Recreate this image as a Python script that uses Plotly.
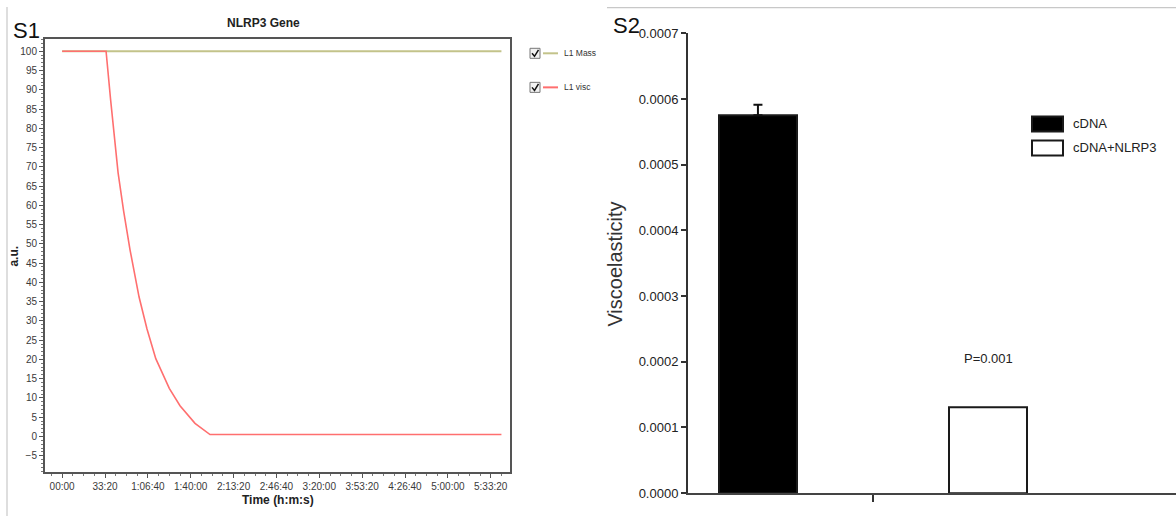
import plotly.graph_objects as go

# Canvas size; layout positions below are written in page pixels (x, y),
# converted to paper fractions by px()/py().
W, H = 1176, 524
YS, YOFF = 532 / 516, 8

# ---- S1: NLRP3 Gene time course (time in seconds, a.u.) ----
mass_time = [0, 20500]
mass_val = [100, 100]
visc_time = [0, 2050, 2260, 2400, 2610, 2870, 3170, 3590, 3960, 4370, 5000, 5500, 6200, 6900, 20500]
visc_val = [100, 100, 87.5, 79.5, 68.5, 58.5, 48.4, 36.2, 27.9, 20.2, 12.5, 8.0, 3.4, 0.5, 0.5]
time_ticks = [0, 2000, 4000, 6000, 8000, 10000, 12000, 14000, 16000, 18000, 20000]
time_labels = ["00:00", "33:20", "1:06:40", "1:40:00", "2:13:20", "2:46:40",
               "3:20:00", "3:53:20", "4:26:40", "5:00:00", "5:33:20"]
au_ticks = list(range(-5, 101, 5))
s1_series = ["L1 Mass", "L1 visc"]
s1_colors = ["#c3c38a", "#ff6f6f"]

# ---- S2: Viscoelasticity bar chart ----
groups = ["cDNA", "cDNA+NLRP3"]
visco = [0.000575, 0.000131]
visco_err = [0.000016, 0.0]
bar_fill = ["#000000", "#ffffff"]
p_label = "P=0.001"

FONT = "Liberation Sans, Arial, sans-serif"


def px(x):
    return x / W


def py(y):
    return 1 - (y * YS - YOFF) / H


fig = go.Figure()

# S1 lines
fig.add_trace(go.Scatter(x=mass_time, y=mass_val, mode="lines", name=s1_series[0],
                         line=dict(color=s1_colors[0], width=2.2),
                         xaxis="x", yaxis="y", showlegend=False))
fig.add_trace(go.Scatter(x=visc_time, y=visc_val, mode="lines", name=s1_series[1],
                         line=dict(color=s1_colors[1], width=1.6),
                         xaxis="x", yaxis="y", showlegend=False))

# S2 bars
for i, g in enumerate(groups):
    fig.add_trace(go.Bar(
        x=[i], y=[visco[i]], name=g, width=0.339,
        marker=dict(color=bar_fill[i], line=dict(color="#1a1a1a", width=2)),
        error_y=dict(type="data", array=[visco_err[i]], arrayminus=[0],
                     symmetric=False, color="#111111", thickness=2, width=4.5,
                     visible=visco_err[i] > 0),
        xaxis="x2", yaxis="y2", showlegend=False))

tick_font = dict(family=FONT, size=10, color="#3a3a3a")

fig.update_layout(
    width=W, height=H,
    margin=dict(l=0, r=0, t=0, b=0),
    paper_bgcolor="white", plot_bgcolor="white",
    font=dict(family=FONT),
    bargap=0,
    xaxis=dict(
        domain=[px(45), px(510)], anchor="y",
        range=[-800, 20900], showgrid=False, zeroline=False,
        tickmode="array", tickvals=time_ticks, ticktext=time_labels,
        ticks="outside", ticklen=4, tickwidth=1, tickcolor="#555555",
        minor=dict(tickmode="linear", tick0=0, dtick=500, ticks="outside",
                   ticklen=2, tickcolor="#777777"),
        tickfont=tick_font,
        showline=True, linecolor="#555555", linewidth=2, mirror=True,
    ),
    yaxis=dict(
        domain=[py(472), py(40)], anchor="x",
        range=[-9.2, 103.1], showgrid=False, zeroline=False,
        tickmode="array", tickvals=au_ticks,
        ticks="outside", ticklen=4, tickwidth=1, tickcolor="#555555",
        minor=dict(tickmode="linear", tick0=0, dtick=1, ticks="outside",
                   ticklen=2, tickcolor="#777777"),
        tickfont=tick_font,
        showline=True, linecolor="#555555", linewidth=2, mirror=True,
    ),
    xaxis2=dict(
        domain=[px(688), 1], anchor="y2",
        range=[-0.304, 1.817], showgrid=False, zeroline=False,
        tickmode="array", tickvals=[0.5], ticktext=[""],
        ticks="outside", ticklen=7, tickwidth=2, tickcolor="#333333",
        showline=True, linecolor="#444444", linewidth=2,
    ),
    yaxis2=dict(
        domain=[py(493), py(34)], anchor="x2",
        range=[0, 0.0007], showgrid=False, zeroline=False,
        tickmode="linear", tick0=0, dtick=0.0001, tickformat=".4f",
        ticks="outside", ticklen=5, tickwidth=2, tickcolor="#333333",
        tickfont=dict(family=FONT, size=13, color="#222222"),
        showline=True, linecolor="#333333", linewidth=2,
    ),
)

shapes = []
annotations = []

# Panel frames
frame = dict(type="line", xref="paper", yref="paper",
             line=dict(color="#c8c8c8", width=1.2))
shapes.append({**frame, "x0": px(7), "y0": 1, "x1": px(7), "y1": 0})
shapes.append({**frame, "x0": px(607), "y0": py(8.3), "x1": 1, "y1": py(8.3)})

# S1 legend: checkbox, line sample, label
for k, (name, col) in enumerate(zip(s1_series, s1_colors)):
    yc = 54 + 34 * k
    shapes.append(dict(type="rect", xref="paper", yref="paper",
                       x0=px(530), x1=px(540), y0=py(yc + 5), y1=py(yc - 5),
                       line=dict(color="#777777", width=1), fillcolor="#f2f2f2"))
    shapes.append(dict(type="path", xref="paper", yref="paper",
                       path=f"M {px(532)} {py(yc)} L {px(534.5)} {py(yc + 3)} L {px(538.5)} {py(yc - 3.5)}",
                       line=dict(color="#111111", width=1.5)))
    shapes.append(dict(type="line", xref="paper", yref="paper",
                       x0=px(543), x1=px(558), y0=py(yc), y1=py(yc),
                       line=dict(color=col, width=2)))
    annotations.append(dict(xref="paper", yref="paper", x=px(562), y=py(yc),
                            xanchor="left", yanchor="middle", showarrow=False,
                            text=name, font=dict(family=FONT, size=8.5, color="#333333")))

# S2 legend
for k, (name, fill) in enumerate(zip(groups, bar_fill)):
    yt = 117 + 24 * k
    shapes.append(dict(type="rect", xref="paper", yref="paper",
                       x0=px(1032), x1=px(1063), y0=py(yt + 15), y1=py(yt),
                       line=dict(color="#1a1a1a", width=2), fillcolor=fill))
    annotations.append(dict(xref="paper", yref="paper", x=px(1071), y=py(yt + 7.5),
                            xanchor="left", yanchor="middle", showarrow=False,
                            text=name, font=dict(family=FONT, size=13, color="#222222")))

# Titles and labels
annotations += [
    dict(xref="paper", yref="paper", x=px(11), y=py(31), xanchor="left", yanchor="middle",
         showarrow=False, text="S1", font=dict(family=FONT, size=22, color="#111111")),
    dict(xref="paper", yref="paper", x=px(263), y=py(24), xanchor="center", yanchor="middle",
         showarrow=False, text="<b>NLRP3 Gene</b>", font=dict(family=FONT, size=12, color="#222222")),
    dict(xref="paper", yref="paper", x=px(14), y=py(257), xanchor="center", yanchor="middle",
         showarrow=False, text="<b>a.u.</b>", textangle=-90,
         font=dict(family=FONT, size=12, color="#222222")),
    dict(xref="paper", yref="paper", x=px(278), y=py(500), xanchor="center", yanchor="middle",
         showarrow=False, text="<b>Time (h:m:s)</b>", font=dict(family=FONT, size=12, color="#222222")),
    dict(xref="paper", yref="paper", x=px(611), y=py(26), xanchor="left", yanchor="middle",
         showarrow=False, text="S2", font=dict(family=FONT, size=22, color="#111111")),
    dict(xref="paper", yref="paper", x=px(615), y=py(265), xanchor="center", yanchor="middle",
         showarrow=False, text="Viscoelasticity", textangle=-90,
         font=dict(family=FONT, size=20, color="#333333")),
    dict(xref="x2", yref="y2", x=1, y=0.000205, xanchor="center", yanchor="middle",
         showarrow=False, text=p_label, font=dict(family=FONT, size=13, color="#222222")),
]

fig.update_layout(shapes=shapes, annotations=annotations)

fig.write_html("out.html")
